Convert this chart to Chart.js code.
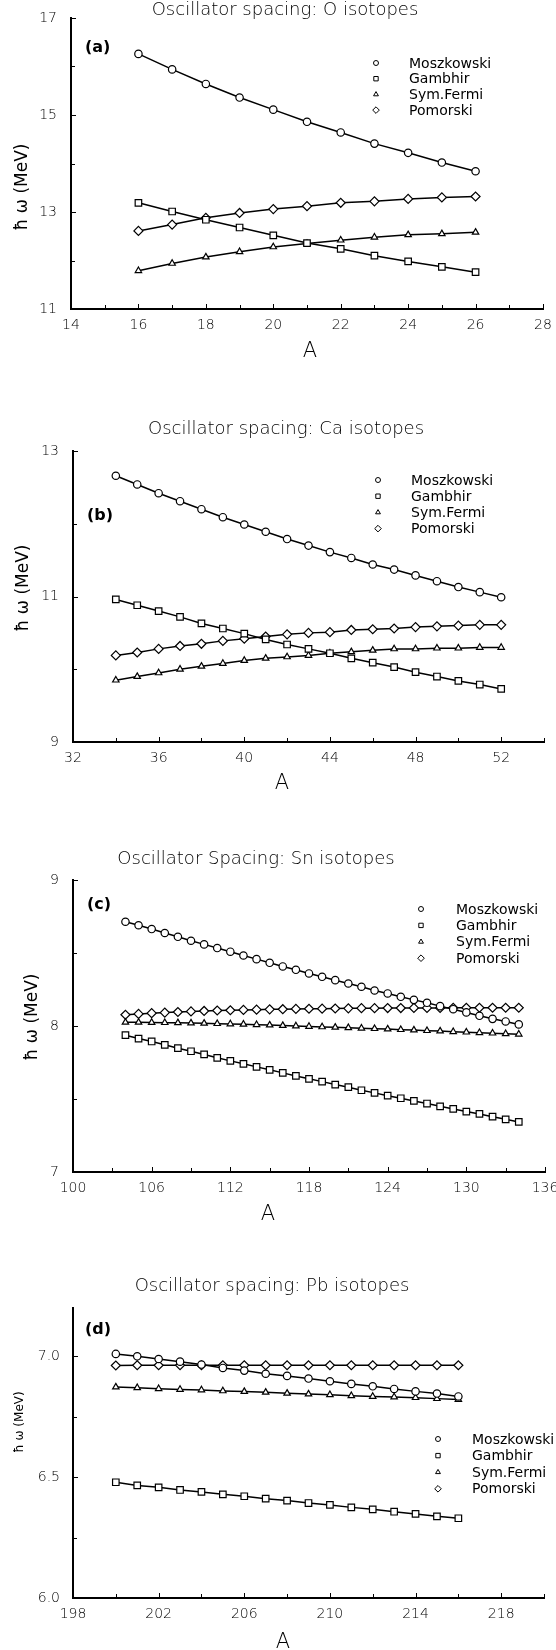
<!DOCTYPE html>
<html>
<head>
<meta charset="utf-8">
<script src="https://cdn.jsdelivr.net/npm/chart.js@4/dist/chart.umd.min.js"></script>
<style>
  body { margin: 0; background: #fff; width: 556px; height: 1650px; position: relative; overflow: hidden; }
  canvas { position: absolute; left: 0; }
</style>
</head>
<body>
<canvas id="chartO" width="556" height="380" style="top:0px"></canvas>
<canvas id="chartCa" width="556" height="420" style="top:380px"></canvas>
<canvas id="chartSn" width="556" height="430" style="top:800px"></canvas>
<canvas id="chartPb" width="556" height="420" style="top:1230px"></canvas>
<script>
const seriesNames = ['Moszkowski', 'Gambhir', 'Sym.Fermi', 'Pomorski'];

// O isotopes
const massO = [16, 17, 18, 19, 20, 21, 22, 23, 24, 25, 26];
const moszO = [16.26, 15.94, 15.64, 15.36, 15.11, 14.86, 14.64, 14.41, 14.22, 14.02, 13.84];
const gambO = [13.19, 13.01, 12.84, 12.68, 12.52, 12.36, 12.24, 12.10, 11.98, 11.87, 11.76];
const symO  = [11.79, 11.94, 12.07, 12.18, 12.28, 12.35, 12.42, 12.48, 12.53, 12.55, 12.58];
const pomO  = [12.61, 12.74, 12.88, 12.98, 13.06, 13.12, 13.19, 13.22, 13.27, 13.30, 13.32];
const xLabelsO = [14, 16, 18, 20, 22, 24, 26, 28];
const yLabelsO = [11, 13, 15, 17];

// Ca isotopes
const massCa = [34, 35, 36, 37, 38, 39, 40, 41, 42, 43, 44, 45, 46, 47, 48, 49, 50, 51, 52];
const moszCa = [12.66, 12.54, 12.42, 12.31, 12.20, 12.09, 11.99, 11.89, 11.79, 11.70, 11.61, 11.53, 11.44, 11.37, 11.29, 11.21, 11.13, 11.06, 10.99];
const gambCa = [10.96, 10.88, 10.80, 10.72, 10.63, 10.56, 10.49, 10.41, 10.34, 10.28, 10.22, 10.15, 10.09, 10.03, 9.96, 9.90, 9.84, 9.79, 9.73];
const symCa  = [9.85, 9.90, 9.95, 10.00, 10.04, 10.08, 10.12, 10.15, 10.17, 10.19, 10.22, 10.24, 10.26, 10.28, 10.28, 10.29, 10.29, 10.30, 10.30];
const pomCa  = [10.19, 10.23, 10.28, 10.32, 10.35, 10.39, 10.42, 10.45, 10.48, 10.50, 10.51, 10.54, 10.55, 10.56, 10.58, 10.59, 10.60, 10.61, 10.61];
const xLabelsCa = [32, 36, 40, 44, 48, 52];
const yLabelsCa = [9, 11, 13];

// Sn isotopes
const massSn = [104, 105, 106, 107, 108, 109, 110, 111, 112, 113, 114, 115, 116, 117, 118, 119,
                120, 121, 122, 123, 124, 125, 126, 127, 128, 129, 130, 131, 132, 133, 134];
const moszSn = [8.714, 8.690, 8.664, 8.637, 8.611, 8.584, 8.559, 8.534, 8.509, 8.483, 8.458, 8.433, 8.408, 8.385, 8.360, 8.337,
                8.314, 8.291, 8.269, 8.243, 8.223, 8.200, 8.179, 8.159, 8.136, 8.115, 8.093, 8.070, 8.049, 8.031, 8.011];
const gambSn = [7.937, 7.914, 7.894, 7.871, 7.848, 7.827, 7.805, 7.782, 7.761, 7.741, 7.720, 7.700, 7.679, 7.658, 7.638, 7.619,
                7.599, 7.581, 7.560, 7.542, 7.523, 7.505, 7.487, 7.469, 7.450, 7.432, 7.414, 7.398, 7.379, 7.361, 7.343];
const symSn  = [8.025, 8.025, 8.024, 8.023, 8.022, 8.020, 8.018, 8.016, 8.014, 8.012, 8.009, 8.006, 8.003, 8.000, 7.997, 7.994,
                7.991, 7.988, 7.985, 7.982, 7.979, 7.975, 7.972, 7.968, 7.965, 7.961, 7.958, 7.954, 7.951, 7.947, 7.944];
const pomSn  = [8.077, 8.083, 8.088, 8.092, 8.096, 8.100, 8.103, 8.106, 8.108, 8.110, 8.112, 8.114, 8.115, 8.117, 8.118, 8.119,
                8.120, 8.121, 8.122, 8.122, 8.123, 8.123, 8.124, 8.124, 8.124, 8.125, 8.125, 8.125, 8.125, 8.125, 8.125];
const xLabelsSn = [100, 106, 112, 118, 124, 130, 136];
const yLabelsSn = [7, 8, 9];

// Pb isotopes
const massPb = [200, 201, 202, 203, 204, 205, 206, 207, 208, 209, 210, 211, 212, 213, 214, 215, 216];
const moszPb = [7.010, 7.000, 6.989, 6.978, 6.966, 6.952, 6.941, 6.928, 6.919, 6.908, 6.897, 6.886, 6.876, 6.865, 6.855, 6.846, 6.834];
const gambPb = [6.479, 6.466, 6.458, 6.447, 6.439, 6.429, 6.421, 6.411, 6.403, 6.393, 6.385, 6.375, 6.367, 6.357, 6.348, 6.338, 6.330];
const symPb  = [6.873, 6.870, 6.866, 6.863, 6.861, 6.857, 6.854, 6.851, 6.847, 6.844, 6.841, 6.837, 6.834, 6.832, 6.829, 6.825, 6.821];
const pomPb  = [6.962, 6.963, 6.963, 6.963, 6.963, 6.963, 6.963, 6.963, 6.963, 6.963, 6.963, 6.963, 6.963, 6.963, 6.963, 6.963, 6.963];
const xLabelsPb = [198, 202, 206, 210, 214, 218];
const yLabelsPb = [6.0, 6.5, 7.0];

const FONT = '"DejaVu Sans", "Liberation Sans", sans-serif';
const INK = '#000';
const markers = [
    { style: 'circle', radius: 3.7, legend: 2.5 },
    { style: 'rect', radius: 4.6, legend: 3.1 },
    { style: 'triangle', radius: 3.7, legend: 2.8 },
    { style: 'rectRot', radius: 4.5, legend: 3.3 }
];

// inward tick marks on both axes
const innerTicks = {
    id: 'innerTicks',
    afterDraw(chart) {
        const ctx = chart.ctx;
        const area = chart.chartArea;
        const sx = chart.scales.x;
        const sy = chart.scales.y;
        ctx.save();
        ctx.strokeStyle = '#000';
        ctx.lineWidth = 1;
        ctx.beginPath();
        sx.ticks.forEach(t => {
            const p = Math.round(sx.getPixelForValue(t.value)) + 0.5;
            const len = t.label ? 5 : 4;
            ctx.moveTo(p, area.bottom);
            ctx.lineTo(p, area.bottom - len);
        });
        sy.ticks.forEach(t => {
            const p = Math.round(sy.getPixelForValue(t.value)) + 0.5;
            const len = t.label ? 5 : 4;
            ctx.moveTo(area.left, p);
            ctx.lineTo(area.left + len, p);
        });
        ctx.stroke();
        ctx.restore();
    }
};

// titles, panel tag, axis titles and the legend box
const decor = {
    id: 'decor',
    afterDraw(chart, args, o) {
        const ctx = chart.ctx;
        ctx.save();
        ctx.fillStyle = INK;
        ctx.textBaseline = 'middle';

        ctx.textAlign = 'center';
        ctx.font = '200 18px ' + FONT;
        ctx.fillText(o.title, o.titleX, o.titleY);

        ctx.textAlign = 'left';
        ctx.font = 'bold 16px ' + FONT;
        ctx.fillText(o.tag, o.tagX, o.tagY);

        ctx.textAlign = 'center';
        ctx.font = '200 21px ' + FONT;
        ctx.fillText('A', o.xTitleX, o.xTitleY);

        ctx.save();
        ctx.translate(o.yTitleX, o.yTitleY);
        ctx.rotate(-Math.PI / 2);
        ctx.font = o.yTitleSize + 'px ' + FONT;
        ctx.fillText('ħ ω (MeV)', 0, 0);
        ctx.restore();

        ctx.textAlign = 'left';
        ctx.font = '14px ' + FONT;
        chart.data.datasets.forEach((ds, i) => {
            const y = o.legY + i * o.legStep;
            ctx.fillStyle = '#fff';
            ctx.strokeStyle = INK;
            ctx.lineWidth = 1;
            Chart.helpers.drawPoint(ctx, {
                pointStyle: markers[i].style,
                radius: markers[i].legend,
                rotation: 0,
                borderWidth: 1
            }, o.legSymX, y);
            ctx.fillStyle = INK;
            ctx.fillText(ds.label, o.legTextX, y + 1);
        });
        ctx.restore();
    }
};

function axisBase(min, max, step, labels, fmt, padding) {
    return {
        type: 'linear',
        min: min,
        max: max,
        border: { display: true, color: '#000', width: 2 },
        grid: { display: false, drawOnChartArea: false, drawTicks: false },
        ticks: {
            stepSize: step,
            includeBounds: false,
            autoSkip: false,
            maxRotation: 0,
            padding: padding,
            color: INK,
            font: { family: FONT, size: 14, weight: 200 },
            callback: function(value) {
                return labels.some(l => Math.abs(l - value) < 1e-6) ? fmt(value) : '';
            }
        }
    };
}

function drawPanel(id, mass, series, ax, deco) {
    const x = axisBase(ax.xMin, ax.xMax, ax.xStep, ax.xLabels, v => String(v), 8);
    x.afterFit = function(scale) {
        scale.height = ax.xHeight;
        scale.paddingLeft = 0;
        scale.paddingRight = 0;
    };
    const y = axisBase(ax.yMin, ax.yMax, ax.yStep, ax.yLabels, ax.yFmt, ax.yPad);
    y.afterFit = function(scale) {
        scale.width = ax.left;
        scale.paddingTop = 0;
        scale.paddingBottom = 0;
    };

    return new Chart(document.getElementById(id), {
        type: 'line',
        data: {
            datasets: series.map((vals, i) => ({
                label: seriesNames[i],
                data: mass.map((a, k) => ({ x: a, y: vals[k] })),
                borderColor: INK,
                borderWidth: 1.5,
                backgroundColor: '#fff',
                pointStyle: markers[i].style,
                pointRadius: markers[i].radius,
                pointBorderColor: INK,
                pointBackgroundColor: '#fff',
                pointBorderWidth: 1.2,
                tension: 0,
                fill: false
            }))
        },
        options: {
            responsive: false,
            animation: false,
            devicePixelRatio: 1,
            clip: false,
            layout: { padding: { top: ax.top, right: ax.right, left: 0, bottom: 0 } },
            plugins: {
                legend: { display: false },
                tooltip: { enabled: false },
                decor: deco
            },
            scales: { x: x, y: y }
        },
        plugins: [innerTicks, decor]
    });
}

const intFmt = v => String(v);

drawPanel('chartO', massO, [moszO, gambO, symO, pomO], {
    xMin: 14, xMax: 28, xStep: 1, xLabels: xLabelsO,
    yMin: 11, yMax: 17, yStep: 1, yLabels: yLabelsO, yFmt: intFmt, yPad: 14,
    left: 71, right: 13, top: 18, xHeight: 71
}, {
    title: 'Oscillator spacing: O isotopes', titleX: 285, titleY: 10,
    tag: '(a)', tagX: 85, tagY: 48,
    xTitleX: 310, xTitleY: 352,
    yTitleX: 23, yTitleY: 187, yTitleSize: 17,
    legSymX: 376, legTextX: 409, legY: 63, legStep: 15.7
});

drawPanel('chartCa', massCa, [moszCa, gambCa, symCa, pomCa], {
    xMin: 32, xMax: 54, xStep: 2, xLabels: xLabelsCa,
    yMin: 9, yMax: 13, yStep: 1, yLabels: yLabelsCa, yFmt: intFmt, yPad: 14,
    left: 73, right: 12, top: 71, xHeight: 58
}, {
    title: 'Oscillator spacing: Ca isotopes', titleX: 286, titleY: 49,
    tag: '(b)', tagX: 87, tagY: 136,
    xTitleX: 282, xTitleY: 404,
    yTitleX: 24, yTitleY: 208, yTitleSize: 17,
    legSymX: 378, legTextX: 411, legY: 100, legStep: 16.2
});

drawPanel('chartSn', massSn, [moszSn, gambSn, symSn, pomSn], {
    xMin: 100, xMax: 136, xStep: 3, xLabels: xLabelsSn,
    yMin: 7, yMax: 9, yStep: 0.5, yLabels: yLabelsSn, yFmt: intFmt, yPad: 14,
    left: 73, right: 11, top: 80, xHeight: 58
}, {
    title: 'Oscillator Spacing: Sn isotopes', titleX: 256, titleY: 59,
    tag: '(c)', tagX: 87, tagY: 105,
    xTitleX: 268, xTitleY: 415,
    yTitleX: 33, yTitleY: 217, yTitleSize: 17,
    legSymX: 421, legTextX: 456, legY: 109, legStep: 16.4
});

drawPanel('chartPb', massPb, [moszPb, gambPb, symPb, pomPb], {
    xMin: 198, xMax: 220, xStep: 2, xLabels: xLabelsPb,
    yMin: 6.0, yMax: 7.2, yStep: 0.25, yLabels: yLabelsPb, yFmt: v => v.toFixed(1), yPad: 13,
    left: 73, right: 12, top: 78, xHeight: 52
}, {
    title: 'Oscillator spacing: Pb isotopes', titleX: 272, titleY: 56,
    tag: '(d)', tagX: 85, tagY: 100,
    xTitleX: 283, xTitleY: 413,
    yTitleX: 20, yTitleY: 192, yTitleSize: 12,
    legSymX: 438, legTextX: 472, legY: 209, legStep: 16.6
});
</script>
</body>
</html>
